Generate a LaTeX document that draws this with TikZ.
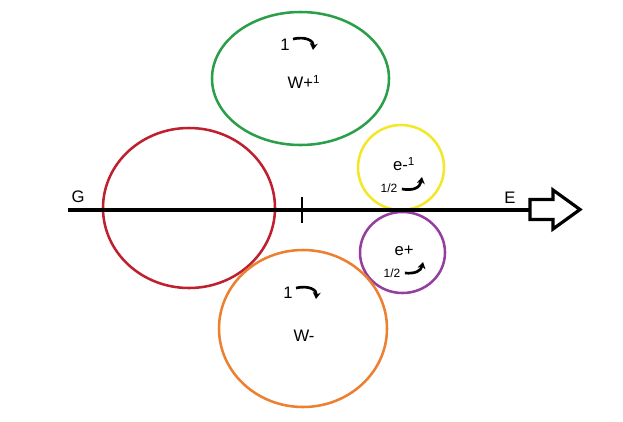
\documentclass[tikz,border=0pt]{standalone}
\usepackage{fontspec}
\setmainfont{Liberation Sans}
\usetikzlibrary{arrows.meta}

\tikzset{every picture/.style={line width=0.75pt}}
\tikzset{
  lbl/.style={inner sep=0.75pt, font=\fontsize{12.5}{14}\selectfont},
  small/.style={inner sep=0.75pt, font=\fontsize{9}{11}\selectfont},
  spin/.style={line width=2pt, -{Stealth[length=5pt,width=6pt]}},
  ring/.style={line width=1.9pt}
}
\definecolor{ringred}{RGB}{190,32,48}
\definecolor{ringgreen}{RGB}{42,158,72}
\definecolor{ringyellow}{RGB}{242,232,40}
\definecolor{ringpurple}{RGB}{148,62,160}
\definecolor{ringorange}{RGB}{236,128,48}

\begin{document}
\begin{tikzpicture}[x=0.75pt,y=0.75pt,yscale=-1,xscale=1]
		\useasboundingbox (0,0) rectangle (623,421);
		
		%Ellipses
		\draw [ring, color=ringred] (189,208) ellipse (86 and 80);
		\draw [ring, color=ringgreen] (300.5,78.5) ellipse (88.5 and 66.5);
		\draw [ring, color=ringyellow] (401,167.5) ellipse (43 and 42.5);
		\draw [ring, color=ringpurple] (402.5,252.5) ellipse (42.5 and 40.5);
		\draw [ring, color=ringorange] (303,328.5) ellipse (84 and 78.5);
		
		%Axis
		\coordinate (left) at (68,210);
		\coordinate (base) at (530,210);
		\draw [line width=2.4pt] (left) -- (base);
		\draw [line width=2.2pt] (302,197) -- (302,223);
		%Block arrow
		\draw [line width=2.4pt, line join=miter] (530,199.5) -- (553,199.5) -- (553,190) -- (580,209.5) -- (553,229) -- (553,219.5) -- (530,219.5) -- cycle;
		
		% Text Node
		\node [lbl] (G) at (78,197) {G};
		% Text Node
		\node [lbl] (E) at (510,198) {E};
		
		% Text Node
		\node [lbl] (wpone) at (285,45) {1};
		\node [lbl] (wp) at (304,82) {W+\textsuperscript{1}};
		\draw [spin] (293,39) .. controls (306,36) and (314,41) .. (313,50);
		
		% Text Node
		\node [lbl] (em) at (404,164) {e-\textsuperscript{1}};
		\node [small] (emhalf) at (389,188) {1/2};
		\draw [spin] (emhalf.east) ++(3,1) .. controls (413,191) and (420,188) .. (422,177);
		
		% Text Node
		\node [lbl] (ep) at (404,251) {e+};
		\node [small] (ephalf) at (392,273) {1/2};
		\draw [spin] (ephalf.east) ++(3,0) .. controls (415,274) and (421,271) .. (423,262);
		
		% Text Node
		\node [lbl] (wmone) at (288,293) {1};
		\node [lbl] (wm) at (304,336) {W-};
		\draw [spin] (296,288) .. controls (309,285) and (317,290) .. (316,299);
		
\end{tikzpicture}
\end{document}
